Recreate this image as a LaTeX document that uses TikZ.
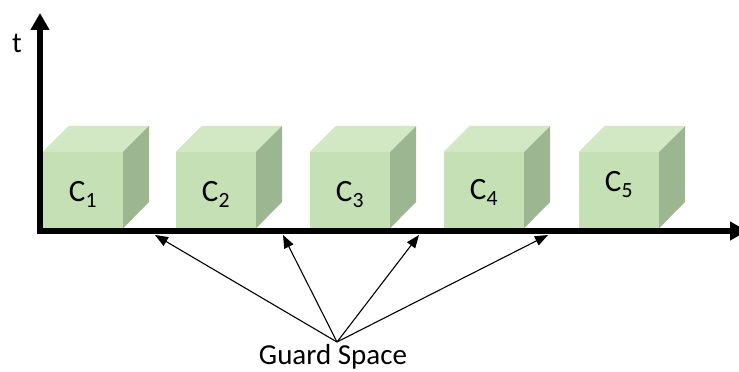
\documentclass[tikz,border=0pt]{standalone}
\usepackage{fontspec}
\setmainfont{Carlito}
\usetikzlibrary{arrows.meta}
\definecolor{cubefront}{HTML}{C5E0B4}
\definecolor{cubetop}{HTML}{D2E7C4}
\definecolor{cubeside}{HTML}{9DB692}
\begin{document}
\begin{tikzpicture}[x=1pt, y=1pt,
  face/.style={fill=cubefront, minimum width=80pt, minimum height=76pt, inner sep=0pt, text height=22pt, text depth=6pt, font=\fontsize{31}{37}\selectfont},
  lbl/.style={font=\fontsize{29}{35}\selectfont, inner sep=0pt},
  axis/.style={line width=6pt, -{Triangle[width=18pt,length=17pt]}},
  arrow/.style={line width=1.1pt, -{Triangle[width=10pt,length=13pt]}}
]
\useasboundingbox (0,0) rectangle (739,372);
\node[face] (c1) at (83,182) {\raisebox{-4pt}{C\textsubscript{1}}};
\node[face] (c2) at (216,182) {\raisebox{-4pt}{C\textsubscript{2}}};
\node[face] (c3) at (350,182) {\raisebox{-4pt}{C\textsubscript{3}}};
\node[face] (c4) at (484,182) {\raisebox{-2pt}{C\textsubscript{4}}};
\node[face] (c5) at (619,182) {\raisebox{6pt}{C\textsubscript{5}}};
\foreach \c in {c1,c2,c3,c4,c5}{
  \fill[cubetop] (\c.north west) -- ++(26,26) -- ++(80,0) -- (\c.north east) -- cycle;
  \fill[cubeside] (\c.north east) -- ++(26,26) -- ++(0,-76) -- (\c.south east) -- cycle;
}

\coordinate (xstart) at (37,141);
\coordinate (xend) at (747,141);
\coordinate (ystart) at (40,138);
\coordinate (yend) at (40,359);
\draw[axis] (xstart) -- (xend);
\draw[axis] (ystart) -- (yend);
\node[lbl] (tlabel) at (17,329) {t};

\coordinate (gs) at (337,30);
\coordinate (g1) at (155,137);
\coordinate (g2) at (283,137);
\coordinate (g3) at (419,137);
\coordinate (g4) at (548,137);
\node[lbl, anchor=base] (guard) at (333,7) {Guard Space};
\foreach \g in {g1,g2,g3,g4}
  \draw[arrow] (gs) -- (\g);
\end{tikzpicture}
\end{document}
